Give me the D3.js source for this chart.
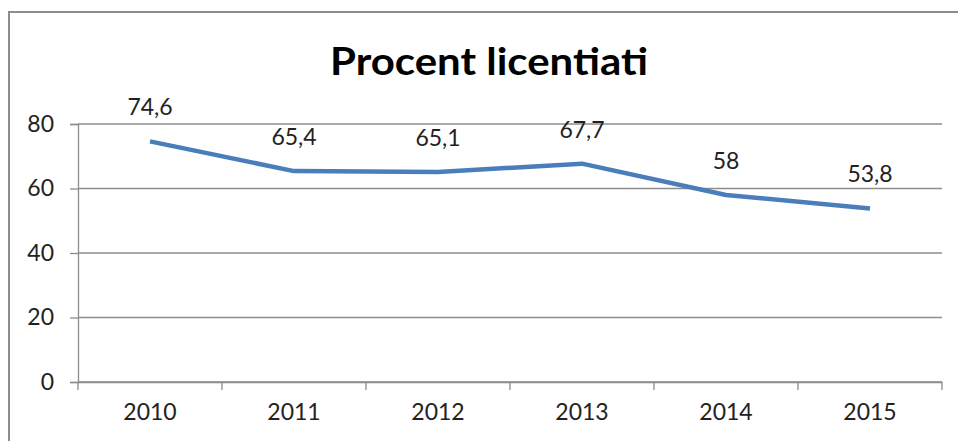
<!DOCTYPE html>
<html><head><meta charset="utf-8">
<script src="https://cdn.jsdelivr.net/npm/d3@7"></script>
<style>body{margin:0;background:#fff}svg{display:block}</style>
</head><body>
<svg id="c" width="958" height="441"></svg>
<script>
const years = ["2010","2011","2012","2013","2014","2015"];
const values = [74.6, 65.4, 65.1, 67.7, 58, 53.8];
const labels = ["74,6","65,4","65,1","67,7","58","53,8"];
const yTicks = [0,20,40,60,80];
const title = "Procent licentiati";

const svg = d3.select("#c");
const font = "Lato, 'Open Sans', sans-serif";
const L = 78, R = 942, T = 124, B = 382;

svg.append("rect").attr("x",9).attr("y",12).attr("width",980).attr("height",460)
  .attr("fill","#fff").attr("stroke","#8c8c8c").attr("stroke-width",2);

svg.append("text").attr("x",489).attr("y",75).attr("text-anchor","middle")
  .attr("font-family",font).attr("font-weight","bold").attr("font-size",38)
  .attr("textLength",318).attr("lengthAdjust","spacingAndGlyphs")
  .attr("fill","#000").text(title);

const x = d3.scaleBand().domain(years).range([L,R]);
const y = d3.scaleLinear().domain([0,80]).range([B,T]);

// gridlines
svg.append("g").selectAll("line").data(yTicks).join("line")
  .attr("x1",L).attr("x2",R).attr("y1",d=>y(d)).attr("y2",d=>y(d))
  .attr("stroke","#8c8c8c").attr("stroke-width",1.3);

// y axis
const ya = svg.append("g").attr("transform",`translate(${L},0)`)
  .call(d3.axisLeft(y).tickValues(yTicks).tickSize(8).tickPadding(16));
ya.select(".domain").attr("stroke","#8c8c8c").attr("stroke-width",1.3);
ya.selectAll(".tick line").attr("stroke","#8c8c8c").attr("stroke-width",1.3);
ya.selectAll("text").attr("font-family",font).attr("font-size",23).attr("fill","#222");

// x axis
const xa = svg.append("g").attr("transform",`translate(0,${B})`)
  .call(d3.axisBottom(x).tickSize(0).tickPadding(22));
xa.select(".domain").attr("stroke","#8c8c8c").attr("stroke-width",1.3);
xa.selectAll("text").attr("font-family",font).attr("font-size",23).attr("fill","#222");
// band boundary ticks
const bounds = years.map(d=>x(d)).concat([R]);
svg.append("g").selectAll("line").data(bounds).join("line")
  .attr("x1",d=>d).attr("x2",d=>d).attr("y1",B).attr("y2",B+8)
  .attr("stroke","#8c8c8c").attr("stroke-width",1.3);

const cx = d => x(d) + x.bandwidth()/2;
const line = d3.line().x((d,i)=>cx(years[i])).y(d=>y(d));
svg.append("path").datum(values).attr("d",line).attr("fill","none")
  .attr("stroke","#4a7ebb").attr("stroke-width",4.5).attr("stroke-linejoin","round");

svg.append("g").selectAll("text").data(values).join("text")
  .attr("x",(d,i)=>cx(years[i])).attr("y",d=>y(d)-26)
  .attr("text-anchor","middle").attr("font-family",font).attr("font-size",23)
  .attr("fill","#222").text((d,i)=>labels[i]);
</script>
</body></html>
